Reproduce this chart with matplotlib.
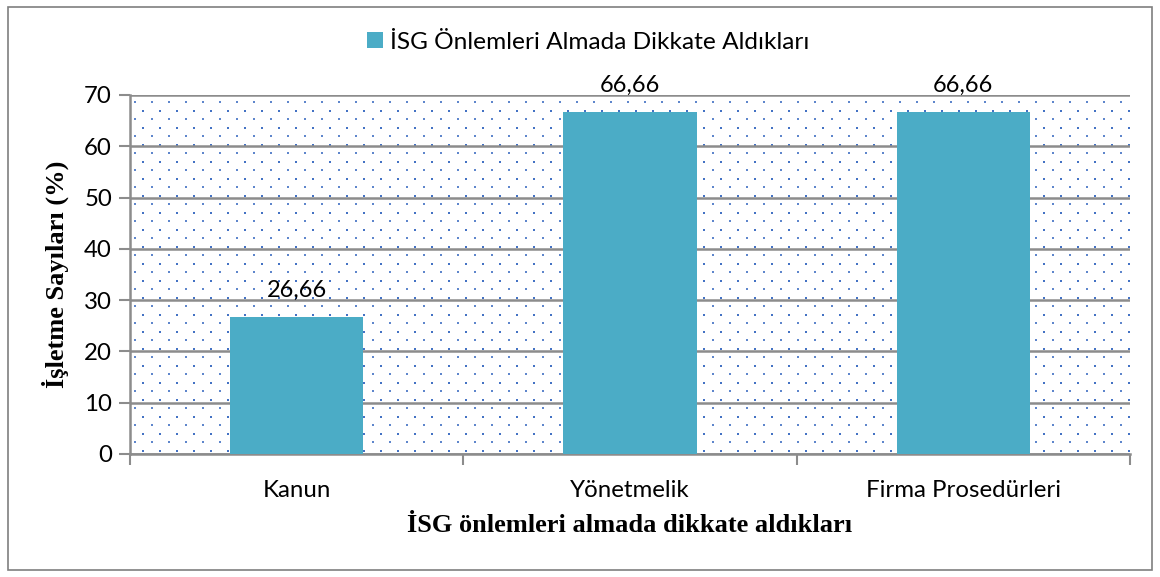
import numpy as np
import matplotlib
matplotlib.use('Agg')
import matplotlib.pyplot as plt
from matplotlib.patches import Rectangle

categories = ['Kanun', 'Yönetmelik', 'Firma Prosedürleri']
values = [26.66, 66.66, 66.66]
value_labels = ['26,66', '66,66', '66,66']
series_name = 'İSG Önlemleri Almada Dikkate Aldıkları'
y_ticks = [0, 10, 20, 30, 40, 50, 60, 70]

BAR_COLOR = '#4BACC6'
GRID_COLOR = '#8C8C8C'
DOT_COLOR = '#4472C4'
SANS = 'Lato'
SERIF = 'Liberation Serif'

W, H, DPI = 11.6, 5.77, 100
fig = plt.figure(figsize=(W, H), dpi=DPI)
ax = fig.add_axes([0.1121, 0.2132, 0.862, 0.6222])

# outer chart frame
fig.patches.append(Rectangle((0.007, 0.012), 0.986, 0.976, transform=fig.transFigure,
                             fill=False, edgecolor='#7F7F7F', linewidth=1.2))

# dotted plot-area texture (staggered lattice, ~17 px pitch)
ax_w = 0.862 * W * DPI
ax_h = 0.6222 * H * DPI
pitch = 17.0
bx, by = np.meshgrid(np.arange(13, ax_w, pitch), np.arange(3, ax_h, pitch))
sx, sy = np.meshgrid(np.arange(4.5, ax_w, pitch), np.arange(11.5, ax_h, pitch))
ax.scatter(bx.ravel() / ax_w, by.ravel() / ax_h, s=3.2, marker='s', color=DOT_COLOR,
           linewidths=0, transform=ax.transAxes, zorder=0.5)
ax.scatter(sx.ravel() / ax_w, sy.ravel() / ax_h, s=1.2, marker='s', color='#5E86CC',
           linewidths=0, transform=ax.transAxes, zorder=0.5)

x = list(range(len(categories)))
bars = ax.bar(x, values, width=0.4, color=BAR_COLOR, zorder=3, label=series_name)
for xi, v, lab in zip(x, values, value_labels):
    ax.text(xi, v + 3.9, lab, ha='center', va='baseline', fontsize=17,
            family=SANS, color='#000000', zorder=4)

ax.set_xlim(-0.5, len(categories) - 0.5)
ax.set_ylim(0, 70)
ax.set_yticks(y_ticks)
ax.yaxis.grid(True, color=GRID_COLOR, linewidth=1.8, zorder=1)
ax.set_axisbelow(True)

ax.set_xticks([-0.5, 0.5, 1.5, 2.5])
ax.set_xticklabels([])
ax.set_xticks(x, minor=True)
ax.set_xticklabels(categories, minor=True, fontsize=17.3, family=SANS)
ax.tick_params(axis='x', which='major', length=8, width=1.5, color=GRID_COLOR, direction='out')
ax.tick_params(axis='x', which='minor', length=0, pad=19)
ax.tick_params(axis='y', length=8, width=1.5, color=GRID_COLOR, direction='out',
               labelsize=17.3, pad=5)
for t in ax.get_yticklabels():
    t.set_family(SANS)

for s in ['top', 'right']:
    ax.spines[s].set_visible(False)
for s in ['left', 'bottom']:
    ax.spines[s].set_color(GRID_COLOR)
    ax.spines[s].set_linewidth(1.8)

ax.set_ylabel('İşletme Sayıları (%)', fontsize=19, fontweight='bold',
              family=SERIF, labelpad=11)
ax.set_xlabel('İSG önlemleri almada dikkate aldıkları', fontsize=19, fontweight='bold',
              family=SERIF, labelpad=9)

fig.legend(handles=[bars], labels=[series_name], loc='center', bbox_to_anchor=(0.507, 0.927),
           frameon=False, prop={'family': SANS, 'size': 17.6},
           handlelength=0.65, handleheight=0.65, handletextpad=0.3)

fig.savefig('out.png', dpi=DPI)
